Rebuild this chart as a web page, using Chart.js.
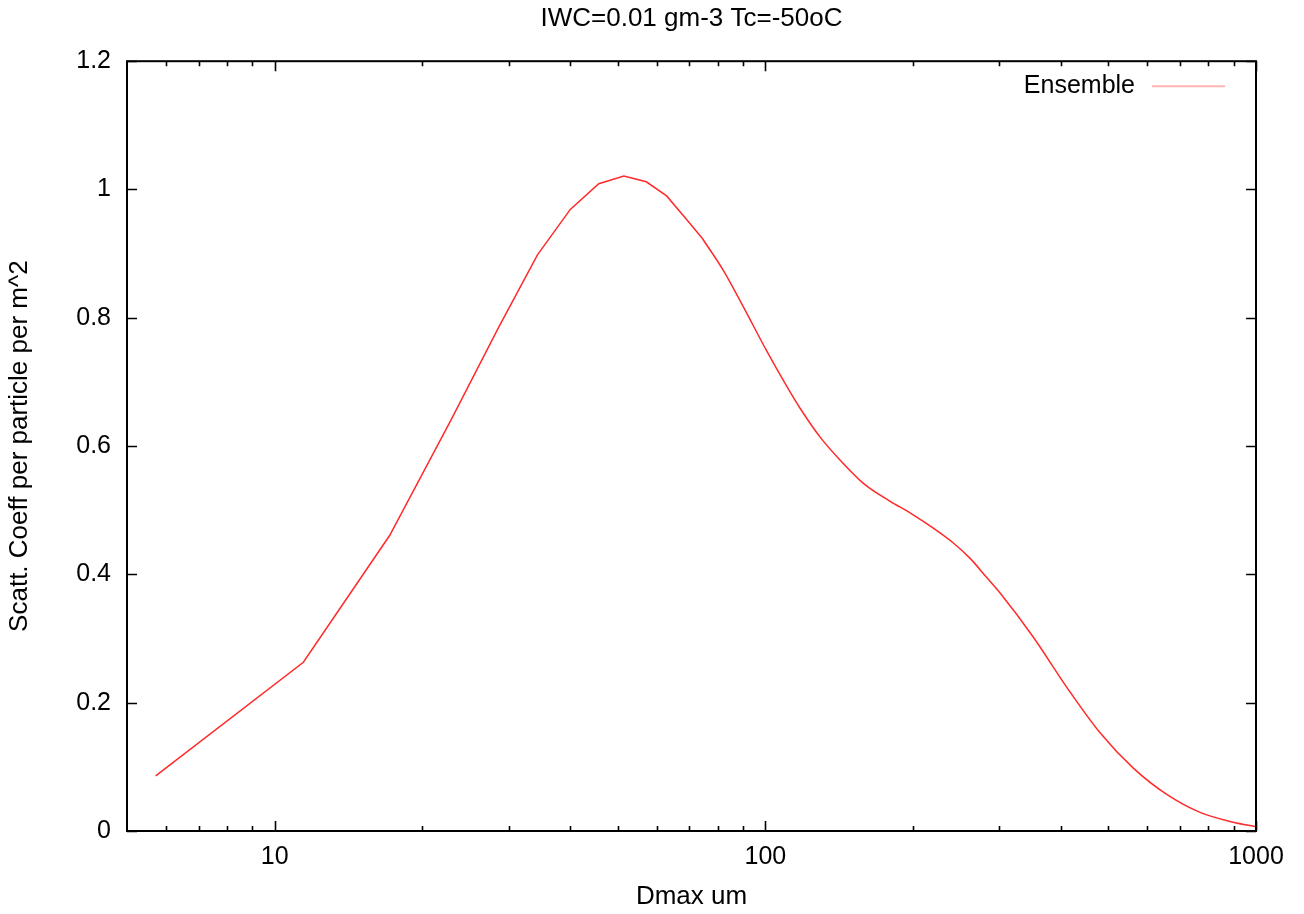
<!DOCTYPE html>
<html>
<head>
<meta charset="utf-8">
<title>IWC=0.01 gm-3 Tc=-50oC</title>
<script src="https://cdn.jsdelivr.net/npm/chart.js@4"></script>
<style>
  html, body { margin: 0; padding: 0; background: #fff; }
</style>
</head>
<body>
<canvas id="chart" width="1304" height="914"></canvas>
<script>
// Dmax (um) and scattering coefficient
const dmax = [
  5.72, 11.44, 17.16, 22.88, 28.6, 34.32, 40.04, 45.76, 51.48, 57.2,
  62.92, 68.64, 74.36, 82.1, 90.2, 100.7, 110.6, 117.7, 129.3, 142.1,
  158.4, 179.6, 197.2, 220.0, 241.6, 261.4, 282.7, 300.9, 351.8, 411.5,
  481.0, 562.3, 657.8, 769.0, 899.0, 1000
];
const scatt = [
  0.086, 0.263, 0.461, 0.641, 0.785, 0.898, 0.969, 1.009, 1.021, 1.012,
  0.990, 0.956, 0.924, 0.874, 0.817, 0.748, 0.693, 0.659, 0.614, 0.578,
  0.542, 0.514, 0.496, 0.472, 0.449, 0.425, 0.395, 0.371, 0.302, 0.224,
  0.153, 0.098, 0.057, 0.029, 0.0136, 0.0067
];
// coarse bins are joined by straight segments, the dense tail is drawn smooth
const smoothFrom = 74.36;

const xMajorTicks = [10, 100, 1000];
const xMinorTicks = [6, 7, 8, 9, 20, 30, 40, 50, 60, 70, 80, 90, 200, 300, 400, 500, 600, 700, 800, 900];
const yTicks = [0, 0.2, 0.4, 0.6, 0.8, 1, 1.2];

const seriesName = "Ensemble";
const lineColor = "#ff2a2a";

Chart.defaults.font.family = '"Liberation Sans", Arial, Helvetica, sans-serif';
Chart.defaults.font.size = 25;
Chart.defaults.color = "#000";

const points = dmax.map((d, i) => ({ x: d, y: scatt[i] }));

// gnuplot style box: frame + inward ticks on all four sides + key
const frameAndTicks = {
  id: "frameAndTicks",
  afterDatasetsDraw(chart) {
    const { ctx, chartArea: a, scales: { x, y } } = chart;
    ctx.save();
    ctx.strokeStyle = "#000";
    ctx.lineWidth = 1.6;
    ctx.beginPath();
    xMajorTicks.concat(xMinorTicks).forEach(v => {
      const px = Math.round(x.getPixelForValue(v)) + 0.5;
      const len = xMajorTicks.includes(v) ? 10 : 5;
      ctx.moveTo(px, a.bottom);
      ctx.lineTo(px, a.bottom - len);
      ctx.moveTo(px, a.top);
      ctx.lineTo(px, a.top + len);
    });
    yTicks.forEach(v => {
      const py = Math.round(y.getPixelForValue(v)) + 0.5;
      ctx.moveTo(a.left, py);
      ctx.lineTo(a.left + 10, py);
      ctx.moveTo(a.right, py);
      ctx.lineTo(a.right - 10, py);
    });
    ctx.stroke();

    ctx.lineWidth = 2;
    ctx.strokeRect(a.left, a.top, a.right - a.left, a.bottom - a.top);

    // key
    const ky = a.top + 25;
    ctx.font = "25px " + Chart.defaults.font.family;
    ctx.fillStyle = "#000";
    ctx.textAlign = "right";
    ctx.textBaseline = "middle";
    ctx.fillText(seriesName, a.right - 121, ky);
    ctx.strokeStyle = "#ffb4b4";
    ctx.lineWidth = 2;
    ctx.beginPath();
    ctx.moveTo(a.right - 104, ky);
    ctx.lineTo(a.right - 31, ky);
    ctx.stroke();
    ctx.restore();
  }
};

const lineStyle = {
  borderColor: lineColor,
  borderWidth: 1.5,
  pointRadius: 0,
  fill: false
};

new Chart(document.getElementById("chart"), {
  type: "line",
  data: {
    datasets: [
      Object.assign({ label: seriesName, data: points.filter(p => p.x <= smoothFrom), tension: 0 }, lineStyle),
      Object.assign({ label: seriesName, data: points.filter(p => p.x >= smoothFrom), cubicInterpolationMode: "monotone" }, lineStyle)
    ]
  },
  options: {
    responsive: false,
    animation: false,
    events: [],
    layout: { padding: { left: 0, right: 48, top: 0, bottom: 0 } },
    plugins: {
      legend: { display: false },
      tooltip: { enabled: false },
      title: {
        display: true,
        fullSize: false,
        text: "IWC=0.01 gm-3 Tc=-50oC",
        color: "#000",
        font: { size: 26, weight: "normal" },
        padding: { top: 3, bottom: 27 }
      }
    },
    scales: {
      x: {
        type: "logarithmic",
        min: 5,
        max: 1000,
        grid: { display: false, drawTicks: false },
        border: { display: false },
        afterBuildTicks: scale => { scale.ticks = xMajorTicks.map(v => ({ value: v })); },
        afterFit: scale => { scale.height = 83; },
        ticks: {
          autoSkip: false,
          maxRotation: 0,
          padding: 11,
          callback: v => String(v)
        },
        title: {
          display: true,
          text: "Dmax um",
          font: { size: 26 },
          padding: { top: 0, bottom: 2 }
        }
      },
      y: {
        min: 0,
        max: 1.2,
        grid: { display: false, drawTicks: false },
        border: { display: false },
        afterBuildTicks: scale => { scale.ticks = yTicks.map(v => ({ value: v })); },
        afterFit: scale => { scale.width = 127; },
        ticks: {
          padding: 16,
          callback: v => String(v)
        },
        title: {
          display: true,
          text: "Scatt. Coeff per particle per m^2",
          font: { size: 26 },
          padding: { top: 4, bottom: 0 }
        }
      }
    }
  },
  plugins: [frameAndTicks]
});
</script>
</body>
</html>
